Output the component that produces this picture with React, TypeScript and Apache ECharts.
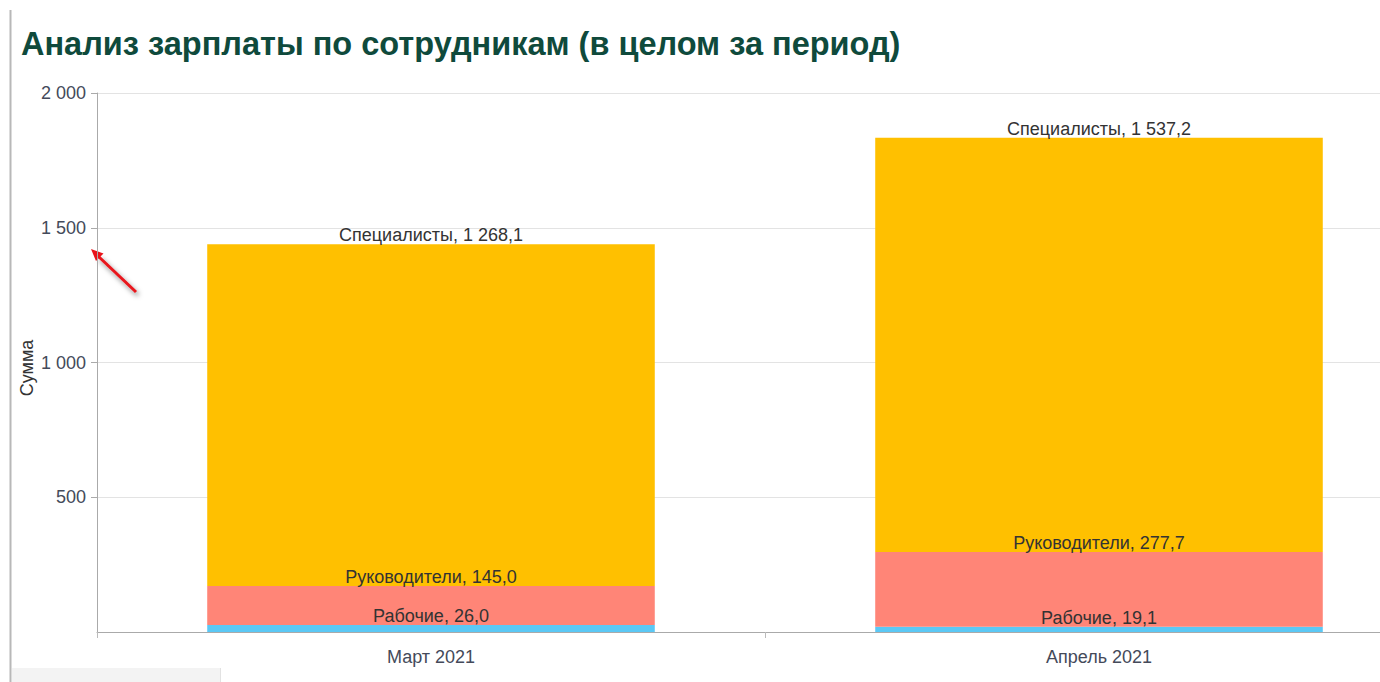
import React, { useEffect, useRef } from "react";
import * as echarts from "echarts";

const categories = ["Март 2021", "Апрель 2021"];
const seriesNames = ["Рабочие", "Руководители", "Специалисты"];
const workers = [26.0, 19.1];
const managers = [145.0, 277.7];
const specialists = [1268.1, 1537.2];
const colors = ["#5BC8F5", "#FF8577", "#FFC000"];
const yAxisName = "Сумма";

const FONT = "Liberation Sans, Arial, sans-serif";

function fmtNum(v: number, dec: number): string {
  const s = v.toFixed(dec);
  const [ip, dp] = s.split(".");
  const withSp = ip.replace(/\B(?=(\d{3})+(?!\d))/g, " ");
  return dp !== undefined ? withSp + "," + dp : withSp;
}

export default function App() {
  const ref = useRef<HTMLDivElement>(null);
  useEffect(() => {
    if (!ref.current) return;
    const chart = echarts.init(ref.current, undefined, { renderer: "svg" });
    const data = [workers, managers, specialists];
    const series = seriesNames.map((name, i) => ({
      name,
      type: "bar",
      stack: "total",
      data: data[i],
      barCategoryGap: "33%",
      itemStyle: { color: colors[i] },
      label: {
        show: true,
        position: "top",
        distance: 0,
        color: "#333",
        fontSize: 18,
        fontFamily: FONT,
        formatter: (p: any) => `${p.seriesName}, ${fmtNum(p.value, 1)}`,
      },
    }));
    chart.setOption({
      animation: false,
      backgroundColor: "#fff",
      title: {
        text: "Анализ зарплаты по сотрудникам (в целом за период)",
        left: 16,
        top: 22,
        textStyle: {
          color: "#0f4a3c",
          fontSize: 32.5,
          fontWeight: "bold",
          fontFamily: FONT,
        },
      },
      grid: { left: 97, right: 7, top: 93, bottom: 50, containLabel: false },
      xAxis: {
        type: "category",
        data: categories,
        axisLine: { lineStyle: { color: "#aaa" } },
        axisTick: { show: true, length: 6, lineStyle: { color: "#bbb" } },
        axisLabel: {
          color: "#444a5a",
          fontSize: 18,
          margin: 16,
          fontFamily: FONT,
        },
      },
      yAxis: {
        type: "value",
        min: 0,
        max: 2000,
        interval: 500,
        axisLine: { show: true, lineStyle: { color: "#aaa" } },
        axisTick: { show: true, length: 6, lineStyle: { color: "#aaa" } },
        splitLine: { lineStyle: { color: "#e3e3e3" } },
        axisLabel: {
          color: "#444a5a",
          fontSize: 18,
          margin: 11,
          showMinLabel: false,
          fontFamily: FONT,
          formatter: (v: number) => fmtNum(v, 0),
        },
      },
      series,
      graphic: [
        {
          type: "text",
          x: 27,
          y: 368,
          rotation: Math.PI / 2,
          silent: true,
          style: {
            text: yAxisName,
            fill: "#333",
            fontSize: 18,
            fontFamily: FONT,
            align: "center",
            verticalAlign: "middle",
          },
        },
        {
          type: "line",
          shape: { x1: 10.5, y1: 10, x2: 10.5, y2: 682 },
          style: { stroke: "#b8b8b8", lineWidth: 2 },
          silent: true,
        },
        {
          type: "rect",
          shape: { x: 12, y: 668, width: 208, height: 14 },
          style: { fill: "#f3f3f3" },
          silent: true,
        },
        {
          type: "line",
          shape: { x1: 220.5, y1: 668, x2: 220.5, y2: 682 },
          style: { stroke: "#e2e2e2", lineWidth: 1 },
          silent: true,
        },
        {
          type: "group",
          silent: true,
          children: [
            {
              type: "line",
              shape: { x1: 136, y1: 292, x2: 98, y2: 256 },
              style: {
                stroke: "#e8141b",
                lineWidth: 3,
                shadowBlur: 5,
                shadowColor: "rgba(0,0,0,0.5)",
                shadowOffsetX: 2,
                shadowOffsetY: 3,
              },
            },
            {
              type: "polygon",
              shape: { points: [[91, 249], [103.5, 253.5], [96, 261]] },
              style: { fill: "#e8141b" },
            },
          ],
        },
      ],
    });
    return () => chart.dispose();
  }, []);
  return (
    <div
      style={{
        position: "fixed",
        left: 0,
        top: 0,
        width: 1380,
        height: 682,
        overflow: "hidden",
        background: "#fff",
      }}
    >
      <div ref={ref} style={{ width: 1440, height: 682 }} />
    </div>
  );
}
